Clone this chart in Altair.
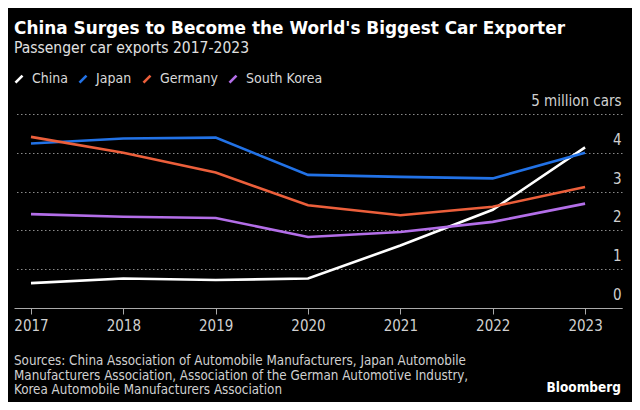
import altair as alt
import pandas as pd

years = [2017, 2018, 2019, 2020, 2021, 2022, 2023]
countries = ["China", "Japan", "Germany", "South Korea"]
china = [0.64, 0.76, 0.72, 0.76, 1.61, 2.53, 4.14]
japan = [4.24, 4.37, 4.39, 3.43, 3.38, 3.34, 4.00]
germany = [4.41, 4.00, 3.49, 2.65, 2.39, 2.61, 3.12]
korea = [2.42, 2.35, 2.32, 1.83, 1.96, 2.22, 2.69]
colors = ["#ffffff", "#2272e6", "#ec5f3b", "#b36ee8"]
y_ticks = [0, 1, 2, 3, 4, 5]

title = "China Surges to Become the World's Biggest Car Exporter"
subtitle = "Passenger car exports 2017-2023"
sources = [
    "Sources: China Association of Automobile Manufacturers, Japan Automobile",
    "Manufacturers Association, Association of the German Automotive Industry,",
    "Korea Automobile Manufacturers Association",
]
brand = "Bloomberg"

rows = []
for name, vals in zip(countries, [china, japan, germany, korea]):
    for yr, v in zip(years, vals):
        rows.append({"year": yr, "country": name, "value": v})
df = pd.DataFrame(rows)

W, H = 608, 194
FONT = "DejaVu Sans Condensed"

lines = alt.Chart(df).mark_line(strokeWidth=2.6, strokeCap="butt").encode(
    x=alt.X(
        "year:Q",
        scale=alt.Scale(domain=[2016.816, 2023.40], nice=False, zero=False),
        axis=alt.Axis(
            values=years, format="d", title=None, grid=False,
            domainColor="#aaaaaa", tickColor="#aaaaaa", tickSize=6,
            labelPadding=4, labelFlush=False, labelColor="#d0d0d0",
            labelFontSize=15, labelFont=FONT,
        ),
    ),
    y=alt.Y(
        "value:Q",
        scale=alt.Scale(domain=[0, 5], nice=False),
        axis=alt.Axis(
            orient="right", values=y_ticks, title=None, domain=False, ticks=False,
            grid=True, gridColor="#8a8a8a", gridDash=[1.5, 2.5], gridWidth=1,
            labelAlign="right", labelBaseline="alphabetic", labelPadding=-1,
            labelOffset=-8.5, labelColor="#d0d0d0", labelFontSize=15, labelFont=FONT,
            labelExpr="datum.value == 5 ? '5 million cars' : datum.label",
        ),
    ),
    color=alt.Color(
        "country:N",
        scale=alt.Scale(domain=countries, range=colors),
        legend=alt.Legend(
            title=None, orient="none", legendX=-2, legendY=-42, direction="horizontal",
            symbolType="M-1,1L1,-1", symbolSize=49, symbolStrokeWidth=2.6,
            labelFontSize=14, labelFont=FONT, labelColor="#d8d8d8",
            labelOffset=6, columnPadding=6,
        ),
    ),
    order="year:Q",
)

src = alt.Chart(pd.DataFrame({"t": [0]})).mark_text(
    text=sources, align="left", baseline="alphabetic", fontSize=13.3,
    font=FONT, color="#d0d0d0", lineHeight=14.7,
).encode(x=alt.value(0), y=alt.value(251))

logo = alt.Chart(pd.DataFrame({"t": [brand]})).mark_text(
    align="right", baseline="alphabetic", fontSize=13.5, fontWeight="bold",
    font=FONT, color="#ffffff",
).encode(text="t:N", x=alt.value(607), y=alt.value(278))

chart = alt.layer(lines, src, logo).properties(
    width=W, height=H,
    title=alt.TitleParams(
        text=title, subtitle=subtitle, anchor="start", frame="group",
        font="DejaVu Sans", fontSize=16.9, fontWeight="bold", color="#ffffff",
        subtitleFont=FONT, subtitleFontSize=15.5, subtitleColor="#e0e0e0",
        subtitlePadding=3, offset=15,
    ),
    padding={"left": 6, "top": 106, "right": 10, "bottom": 94},
    autosize=alt.AutoSizeParams(type="none"),
    background="#000000",
).configure_view(stroke=None)

chart.save("out.html", embed_options={"renderer": "svg", "actions": False})
